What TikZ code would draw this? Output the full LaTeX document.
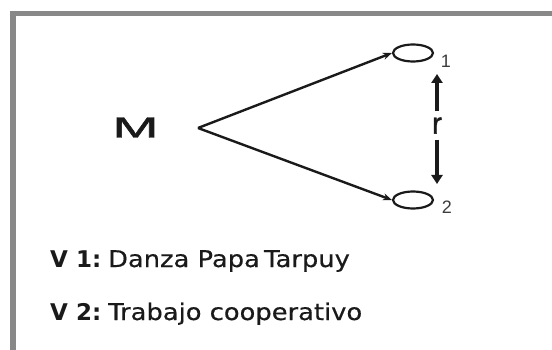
\documentclass[tikz,border=0pt]{standalone}
\usepackage{fontspec}
\setmainfont{Liberation Sans}
\newfontfamily\labfont[FakeStretch=1.12,FakeBold=0.4]{DejaVu Sans}
\newfontfamily\vbold{DejaVu Sans}
\newfontfamily\mfont[FakeBold=1.3]{Liberation Sans}
\usetikzlibrary{arrows.meta,shapes.geometric}
\definecolor{framegray}{HTML}{888888}
\definecolor{ink}{HTML}{1A1A1A}
\begin{document}
\begin{tikzpicture}[x=1pt,y=-1pt,
  obs/.style={draw=ink,ellipse,line width=2.2pt,minimum width=40pt,minimum height=17pt,inner sep=0pt},
  link/.style={draw=ink,line width=2.4pt,-{Stealth[length=9pt,width=7pt]}},
  rlink/.style={draw=ink,line width=3.4pt,-{Triangle[length=9pt,width=11pt]}},
  sub/.style={font=\fontsize{18}{18}\selectfont,text=ink!85,inner sep=0pt},
  vtext/.style={font=\labfont\fontsize{23}{25}\selectfont,text=ink,anchor=base west,inner sep=0pt}]
\useasboundingbox (0,0) rectangle (552,350);
\fill[white] (0,0) rectangle (552,350);
\draw[framegray,line width=5.5pt,line join=miter] (13,352) -- (13,13.5) -- (553,13.5);
\node[text=ink,inner sep=0pt,font=\mfont\fontsize{29}{29}\selectfont,xscale=1.9] (M) at (135.5,127.5) {M};
\coordinate (v) at (198,128);
\node[obs] (o1) at (413,53) {};
\node[obs] (o2) at (413,200) {};
\node[sub] (s1) at (446,61) {1};
\node[sub] (s2) at (447,207.5) {2};
\node[text=ink,inner sep=0pt,outer sep=6pt,font=\mfont\fontsize{30}{30}\selectfont] (r) at (437,125.5) {r};
\coordinate (t1) at (437,74);
\coordinate (t2) at (437,184);
\draw[link] (v) -- (o1.west);
\draw[link] (v) -- (o2.west);
\draw[rlink] (r.north) -- (t1);
\draw[rlink] (r.south) -- (t2);
\node[vtext] (v1) at (50,267) {{\vbold\bfseries V 1:}\hspace{-4pt} Danza Papa\hspace{-4pt} Tarpuy};
\node[vtext] (v2) at (50,320) {{\vbold\bfseries V 2:}\hspace{-4pt} Trabajo cooperativo};
\end{tikzpicture}
\end{document}
